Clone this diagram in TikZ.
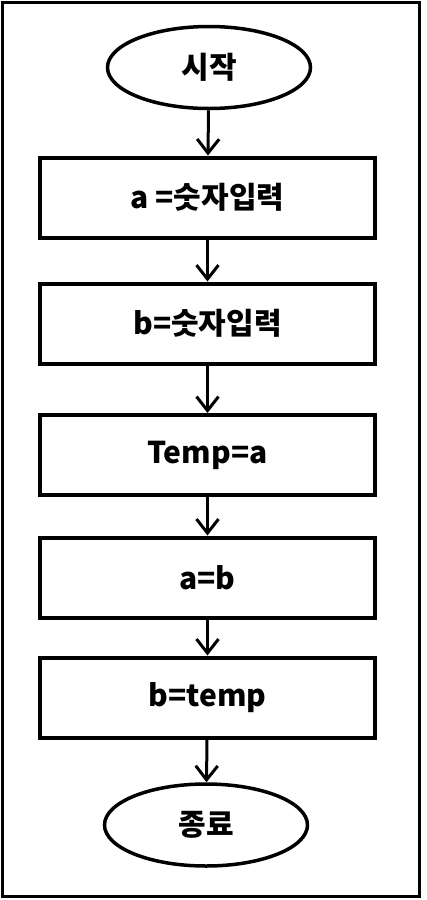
\documentclass[tikz,border=0pt]{standalone}
\usepackage{fontspec}
\setmainfont{Noto Sans CJK KR}
\usetikzlibrary{shapes.geometric,arrows.meta}

\tikzset{
  term/.style={draw,ellipse,line width=3.5pt,minimum width=203pt,minimum height=82pt,inner sep=0pt},
  procbox/.style={draw,rectangle,line width=4pt,minimum width=335pt,minimum height=80pt,inner sep=0pt},
  flow/.style={line width=3pt,-{Straight Barb[length=14pt,width=22pt]}}
}

\begin{document}
\begin{tikzpicture}[x=1pt,y=-1pt,font=\fontsize{30}{33}\selectfont\bfseries]
  \useasboundingbox (0,0) rectangle (426,900);
  \draw[line width=3pt] (2.5,2.5) rectangle (419.5,896.5);
            \node[term] (start) at (209,67.5) {시작};
            \node[procbox] (inA) at (207.5,197.5) {a =숫자입력};
            \node[procbox] (inB) at (207.5,323.5) {b=숫자입력};
            \node[procbox] (setT) at (207.5,455) {Temp=a};
            \node[procbox] (setA) at (207.5,577.5) {a=b};
            \node[procbox] (setB) at (207.5,697.5) {b=temp};
            \node[term] (stop) at (206,825) {종료};
            \draw[flow] (start) -- (inA);
            \draw[flow] (inA) -- (inB);
            \draw[flow] (inB) -- (setT);
            \draw[flow] (setT) -- (setA);
            \draw[flow] (setA) -- (setB);
            \draw[flow] (setB) -- (stop);
\end{tikzpicture}
\end{document}
